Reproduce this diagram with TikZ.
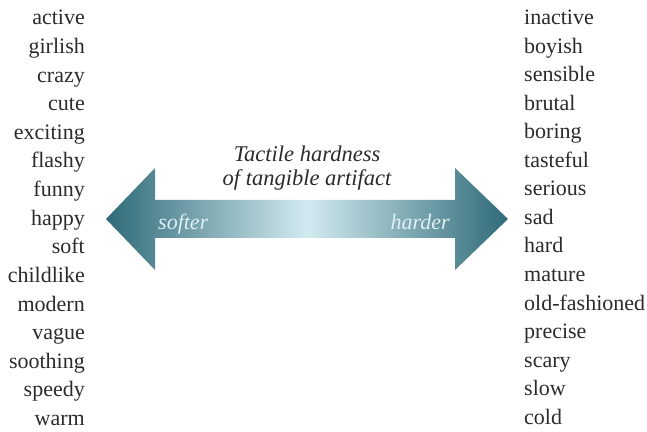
\documentclass[tikz,border=0pt]{standalone}
\usepackage{fontspec}
\setmainfont{Liberation Serif}
\usepackage{tikz}
\usetikzlibrary{calc}

\definecolor{tealdark}{HTML}{2F6A78}
\definecolor{teallight}{HTML}{D2EAF0}
\definecolor{wordgray}{HTML}{2B2B2B}

\tikzset{
  word/.style={font=\fontsize{22}{22}\selectfont, text=wordgray, inner sep=0pt},
  title/.style={font=\fontsize{22.5}{22.5}\selectfont\itshape, text=wordgray, inner sep=0pt},
  onarrow/.style={font=\fontsize{22}{22}\selectfont\itshape, text=teallight!70!white, inner sep=0pt}
}

\begin{document}
\begin{tikzpicture}[x=1pt,y=1pt]
\useasboundingbox (0,0) rectangle (647,431);
\coordinate (o) at (307,212);

% The double arrow, points are relative to (o)
\shade[left color=tealdark, right color=tealdark, middle color=teallight]
  ($ (o) + (-201,0) $) -- ($ (o) + (-152,51) $) -- ($ (o) + (-152,19) $)
  -- ($ (o) + (148,19) $) -- ($ (o) + (148,51) $) -- ($ (o) + (201,0) $)
  -- ($ (o) + (148,-51) $) -- ($ (o) + (148,-19) $) -- ($ (o) + (-152,-19) $)
  -- ($ (o) + (-152,-51) $) -- cycle;

\node[onarrow, anchor=base west] (soft) at ($ (o) + (-149,-11) $) {softer};
\node[onarrow, anchor=base east] (hard) at ($ (o) + (143,-11) $) {harder};

% Title above the shaft
\node[title, anchor=base] (title_top) at ($ (o) + (0,57) $) {Tactile hardness};
\node[title, anchor=base] (title_bottom) at ($ (o) + (0,33) $) {of tangible artifact};

% Left column, right aligned
\foreach \w [count=\i] in {active,girlish,crazy,cute,exciting,flashy,funny,happy,soft,childlike,modern,vague,soothing,speedy,warm}
  \node[word, anchor=base east] (left_\i) at (85,{406-28.6*(\i-1)}) {\w};

% Right column, left aligned
\foreach \w [count=\i] in {inactive,boyish,sensible,brutal,boring,tasteful,serious,sad,hard,mature,old-fashioned,precise,scary,slow,cold}
  \node[word, anchor=base west] (right_\i) at (524,{406-28.5*(\i-1)}) {\w};
\end{tikzpicture}
\end{document}
